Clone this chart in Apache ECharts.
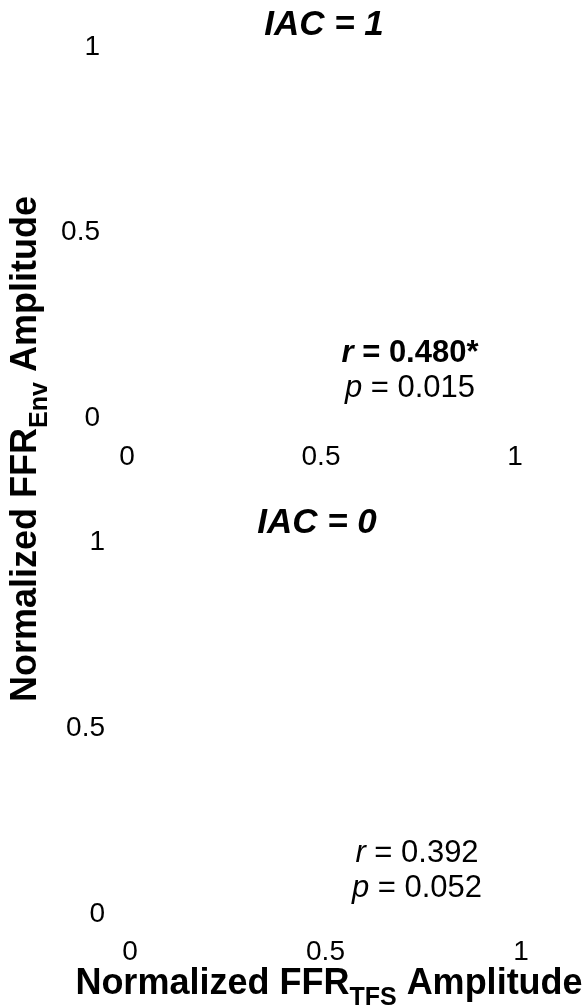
<!DOCTYPE html>
<html>
<head>
<meta charset="utf-8">
<script src="https://cdn.jsdelivr.net/npm/echarts@6/dist/echarts.min.js"></script>
<style>
html,body{margin:0;padding:0;background:#fff;}
#main{width:582px;height:1005px;}
</style>
</head>
<body>
<div id="main"></div>
<script>
// ---- data ----
var panelTitles = ['IAC = 1', 'IAC = 0'];
var rValues = ['0.480*', '0.392'];
var pValues = ['0.015', '0.052'];
var rSignificant = [true, false];
var xTicks = [0, 0.5, 1];
var yTicks = [0, 0.5, 1];
// no individual points are visible in the reference
var pointsIAC1 = [];
var pointsIAC0 = [];

var FONT = '"Liberation Sans", Arial, Helvetica, sans-serif';
var chart = echarts.init(document.getElementById('main'), null, {renderer: 'canvas'});

function xAxisCfg(idx, margin) {
  return {
    type: 'value', gridIndex: idx, min: xTicks[0], max: xTicks[xTicks.length - 1], interval: xTicks[1] - xTicks[0],
    axisLine: {show: false}, axisTick: {show: false}, splitLine: {show: false},
    axisLabel: {show: true, margin: margin, color: '#000', fontSize: 28, fontFamily: FONT}
  };
}
function yAxisCfg(idx, margin) {
  return {
    type: 'value', gridIndex: idx, min: yTicks[0], max: yTicks[yTicks.length - 1], interval: yTicks[1] - yTicks[0],
    axisLine: {show: false}, axisTick: {show: false}, splitLine: {show: false},
    axisLabel: {show: true, margin: margin, color: '#000', fontSize: 28, fontFamily: FONT}
  };
}

function statGraphic(i, cx, cyR, cyP) {
  var bold = rSignificant[i];
  return [
    {type: 'text', x: cx, y: cyR, style: {
      text: '{i|r}{n| = ' + rValues[i] + '}', align: 'center', verticalAlign: 'middle',
      rich: {
        i: {fontFamily: FONT, fontSize: 31, fontStyle: 'italic', fontWeight: bold ? 'bold' : 'normal', fill: '#000'},
        n: {fontFamily: FONT, fontSize: 31, fontWeight: bold ? 'bold' : 'normal', fill: '#000'}
      }}},
    {type: 'text', x: cx, y: cyP, style: {
      text: '{i|p}{n| = ' + pValues[i] + '}', align: 'center', verticalAlign: 'middle',
      rich: {
        i: {fontFamily: FONT, fontSize: 31, fontStyle: 'italic', fill: '#000'},
        n: {fontFamily: FONT, fontSize: 31, fill: '#000'}
      }}}
  ];
}

var titleRich = {
  m: {fontFamily: FONT, fontSize: 36, fontWeight: 'bold', fill: '#000', lineHeight: 38},
  s: {fontFamily: FONT, fontSize: 25, fontWeight: 'bold', fill: '#000', lineHeight: 10, padding: [28, 0, 0, 0]}
};

var option = {
  backgroundColor: '#fff',
  animation: false,
  grid: [
    {left: 127, top: 47, width: 388, height: 371},
    {left: 130, top: 542, width: 391, height: 372}
  ],
  xAxis: [xAxisCfg(0, 25), xAxisCfg(1, 24)],
  yAxis: [yAxisCfg(0, 27), yAxisCfg(1, 25)],
  series: [
    {type: 'scatter', xAxisIndex: 0, yAxisIndex: 0, data: pointsIAC1},
    {type: 'scatter', xAxisIndex: 1, yAxisIndex: 1, data: pointsIAC0}
  ],
  graphic: [
    {type: 'text', x: 324, y: 25, style: {text: panelTitles[0], align: 'center', verticalAlign: 'middle',
      fontFamily: FONT, fontSize: 35, fontWeight: 'bold', fontStyle: 'italic', fill: '#000'}},
    {type: 'text', x: 317, y: 523, style: {text: panelTitles[1], align: 'center', verticalAlign: 'middle',
      fontFamily: FONT, fontSize: 35, fontWeight: 'bold', fontStyle: 'italic', fill: '#000'}}
  ].concat(statGraphic(0, 410, 353, 388)).concat(statGraphic(1, 417, 853, 888)).concat([
    {type: 'text', x: 329, y: 984, style: {
      text: '{m|Normalized FFR}{s|TFS}{m| Amplitude}', align: 'center', verticalAlign: 'middle', rich: titleRich}},
    {type: 'text', x: 26, y: 449, rotation: Math.PI / 2, style: {
      text: '{m|Normalized FFR}{s|Env}{m| Amplitude}', align: 'center', verticalAlign: 'middle', rich: titleRich}}
  ])
};
chart.setOption(option);
</script>
</body>
</html>
